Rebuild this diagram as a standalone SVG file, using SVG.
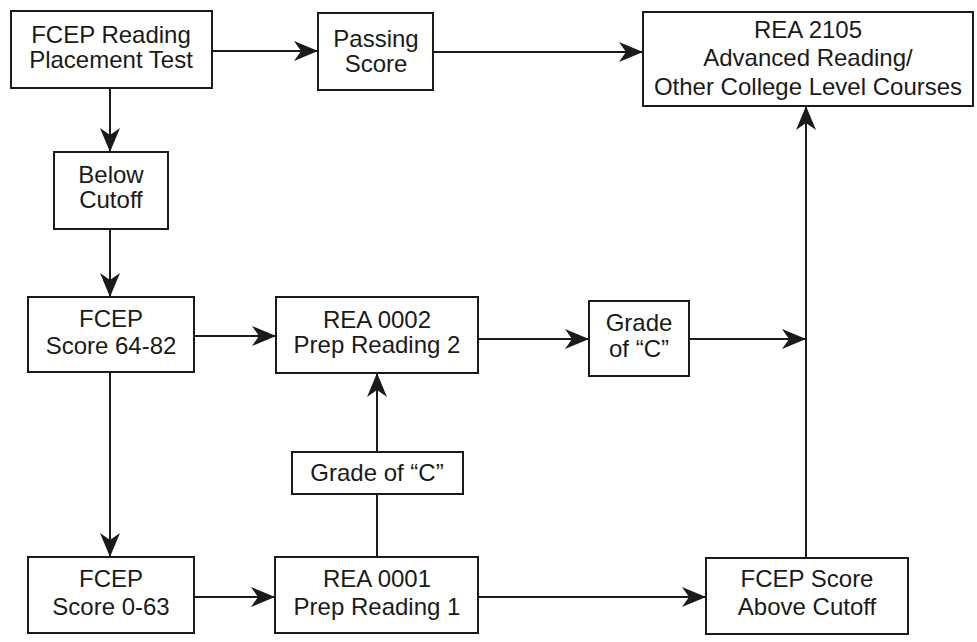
<svg xmlns="http://www.w3.org/2000/svg" width="977" height="642" viewBox="0 0 977 642">
<defs>
<style>
.box{fill:#fff;stroke:#1a1a1a;stroke-width:2}
.t{font-family:"Liberation Sans",Arial,sans-serif;font-size:24px;fill:#1a1a1a;text-anchor:middle}
.c{fill:none;stroke:#1a1a1a;stroke-width:2}
</style>
<marker id="ah" viewBox="0 0 24 20" refX="24" refY="10" markerWidth="24" markerHeight="20" markerUnits="userSpaceOnUse" orient="auto">
<path d="M0,0 L24,10 L0,20 L7,10 z" fill="#1a1a1a"/>
</marker>
</defs>
<rect width="977" height="642" fill="#fff"/>
<g id="connectors">
<line class="c" x1="212" y1="51" x2="318" y2="51" marker-end="url(#ah)"/>
<line class="c" x1="433" y1="52" x2="643" y2="52" marker-end="url(#ah)"/>
<line class="c" x1="110" y1="88" x2="110" y2="152" marker-end="url(#ah)"/>
<line class="c" x1="110" y1="229" x2="110" y2="297" marker-end="url(#ah)"/>
<line class="c" x1="194" y1="336" x2="276" y2="336" marker-end="url(#ah)"/>
<line class="c" x1="110" y1="372" x2="110" y2="557" marker-end="url(#ah)"/>
<line class="c" x1="478" y1="339" x2="589" y2="339" marker-end="url(#ah)"/>
<line class="c" x1="689" y1="339" x2="806" y2="339" marker-end="url(#ah)"/>
<line class="c" x1="194" y1="597" x2="275" y2="597" marker-end="url(#ah)"/>
<line class="c" x1="478" y1="597" x2="706" y2="597" marker-end="url(#ah)"/>
<line class="c" x1="377" y1="557" x2="377" y2="494"/>
<line class="c" x1="377" y1="452" x2="377" y2="373" stroke-width="1.5" marker-end="url(#ah)"/>
<line class="c" x1="806" y1="558" x2="806" y2="106" marker-end="url(#ah)"/>
</g>
<g id="placement">
<rect class="box" x="11" y="11" width="201" height="77"/>
<text class="t" x="111" y="43">FCEP Reading</text>
<text class="t" x="111" y="68">Placement Test</text>
</g>
<g id="passing">
<rect class="box" x="318" y="13" width="115" height="77"/>
<text class="t" x="376" y="47">Passing</text>
<text class="t" x="376" y="72">Score</text>
</g>
<g id="rea2105">
<rect class="box" x="643" y="12" width="330" height="94"/>
<text class="t" x="808" y="38">REA 2105</text>
<text class="t" x="808" y="66">Advanced Reading/</text>
<text class="t" x="808" y="95">Other College Level Courses</text>
</g>
<g id="below">
<rect class="box" x="54" y="152" width="114" height="77"/>
<text class="t" x="111" y="183">Below</text>
<text class="t" x="111" y="208">Cutoff</text>
</g>
<g id="score6482">
<rect class="box" x="28" y="297" width="166" height="75"/>
<text class="t" x="111" y="327">FCEP</text>
<text class="t" x="111" y="354">Score 64-82</text>
</g>
<g id="rea0002">
<rect class="box" x="276" y="297" width="202" height="76"/>
<text class="t" x="377" y="328">REA 0002</text>
<text class="t" x="377" y="353">Prep Reading 2</text>
</g>
<g id="gradec1">
<rect class="box" x="589" y="301" width="100" height="75"/>
<text class="t" x="639" y="331">Grade</text>
<text class="t" x="639" y="357">of “C”</text>
</g>
<g id="gradec2">
<rect class="box" x="292" y="452" width="171" height="42"/>
<text class="t" x="377" y="481">Grade of “C”</text>
</g>
<g id="score063">
<rect class="box" x="28" y="557" width="166" height="76"/>
<text class="t" x="111" y="587">FCEP</text>
<text class="t" x="111" y="615">Score 0-63</text>
</g>
<g id="rea0001">
<rect class="box" x="275" y="557" width="203" height="76"/>
<text class="t" x="377" y="587">REA 0001</text>
<text class="t" x="377" y="615">Prep Reading 1</text>
</g>
<g id="above">
<rect class="box" x="706" y="558" width="202" height="76"/>
<text class="t" x="807" y="587">FCEP Score</text>
<text class="t" x="807" y="615">Above Cutoff</text>
</g>
</svg>
